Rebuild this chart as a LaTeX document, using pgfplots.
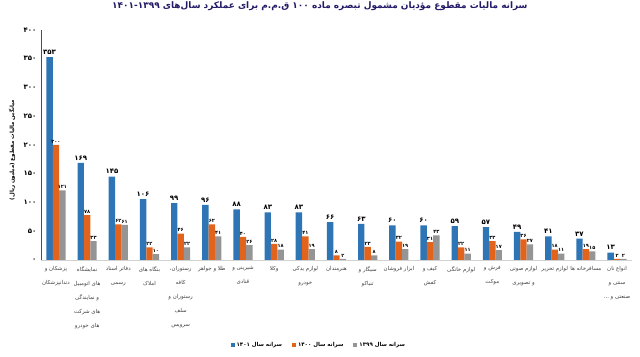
\documentclass[border=0pt]{standalone}
\usepackage{pgfplots}
\pgfplotsset{compat=1.18}
\usepackage{fontspec}
\setmainfont{DejaVu Sans}
\newfontfamily\arabicfont[Script=Arabic]{DejaVu Sans}
\TeXXeTstate=1
\newcommand{\tdots}{...}
\definecolor{cblue}{HTML}{2E75B6}
\definecolor{corange}{HTML}{E2641C}
\definecolor{cgray}{HTML}{959595}
\definecolor{ctitle}{HTML}{231A66}
\definecolor{cred}{HTML}{B22222}
\definecolor{clab}{HTML}{404040}

\begin{document}
\begin{tikzpicture}
\path[use as bounding box] (0,0) rectangle (640bp,357bp);
\begin{axis}[
  at={(41bp,97bp)}, anchor=south west,
  scale only axis, width=591bp, height=230bp,
  ybar=0pt, bar width=6.4bp,
  xmin=-0.48, xmax=18.48, ymin=0, ymax=400,
  ytick={0,50,100,150,200,250,300,350,400},
  yticklabels={۰,۵۰,۱۰۰,۱۵۰,۲۰۰,۲۵۰,۳۰۰,۳۵۰,۴۰۰},
  yticklabel style={font=\arabicfont\bfseries\fontsize{7}{8}\selectfont, xshift=-1bp},
  xtick={0,1,2,3,4,5,6,7,8,9,10,11,12,13,14,15,16,17,18},
  xticklabels={
    {\beginR پزشکان و\endR\\\beginR دندانپزشکان\endR},
    {\beginR نمایشگاه\endR\\\beginR های اتومبیل\endR\\\beginR و نمایندگی\endR\\\beginR های شرکت\endR\\\beginR های خودرو\endR},
    {\beginR دفاتر اسناد\endR\\\beginR رسمی\endR},
    {\beginR بنگاه های\endR\\\beginR املاک\endR},
    {\beginR رستوران،\endR\\\beginR کافه\endR\\\beginR رستوران و\endR\\\beginR سلف\endR\\\beginR سرویس\endR},
    {\beginR طلا و جواهر\endR},
    {\beginR شیرینی و\endR\\\beginR قنادی\endR},
    {\beginR وکلا\endR},
    {\beginR لوازم یدکی\endR\\\beginR خودرو\endR},
    {\beginR هنرمندان\endR},
    {\beginR سیگار و\endR\\\beginR تنباکو\endR},
    {\beginR ابزار فروشان\endR},
    {\beginR کیف و\endR\\\beginR کفش\endR},
    {\beginR لوازم خانگی\endR},
    {\beginR فرش و\endR\\\beginR موکت\endR},
    {\beginR لوازم صوتی\endR\\\beginR و تصویری\endR},
    {\beginR لوازم تحریر\endR},
    {\beginR مسافرخانه ها\endR},
    {\beginR انواع نان\endR\\\beginR سنتی و\endR\\\beginR صنعتی و \tdots\endR}
  },
  xticklabel style={font=\arabicfont\fontsize{5.5}{14}\selectfont, text=clab, align=center, anchor=north, yshift=-3bp},
  axis lines=left, axis line style={-},
  x axis line style={draw=gray!35},
  y axis line style={draw=cred, line width=0.6pt},
  major tick length=0pt,
  title={\beginR سرانه مالیات مقطوع مؤدیان مشمول تبصره ماده ۱۰۰ ق.م.م برای عملکرد سال‌های ۱۴۰۱-۱۳۹۹\endR},
  title style={at={(axis description cs:0.472,1.078)}, anchor=center, font=\arabicfont\bfseries\fontsize{9}{11}\selectfont, text=ctitle},
  ylabel={\beginR میانگین مالیات مقطوع (میلیون ریال)\endR},
  ylabel style={at={(axis description cs:-0.049,0.478)}, anchor=center, rotate=0, font=\arabicfont\bfseries\fontsize{5.5}{7}\selectfont},
  nodes near coords, point meta=explicit symbolic,
  every node near coord/.append style={font=\arabicfont\bfseries\fontsize{5}{6}\selectfont, inner sep=1.5bp, text=black},
  legend style={at={(axis description cs:0.47,-0.37)}, anchor=center, legend columns=3, draw=none, fill=none,
    font=\arabicfont\bfseries\fontsize{5.5}{7}\selectfont, /tikz/every even column/.append style={column sep=8bp}},
  legend image code/.code={\fill[#1] (0bp,-2bp) rectangle (4bp,2bp);},
]
\addplot[fill=cblue, draw=none, every node near coord/.append style={font=\arabicfont\bfseries\fontsize{7}{8}\selectfont, inner sep=2.5bp}] coordinates {
(0,353) [۳۵۳] (1,169) [۱۶۹] (2,145) [۱۴۵] (3,106) [۱۰۶] (4,99) [۹۹] (5,96) [۹۶] (6,88) [۸۸] (7,83) [۸۳] (8,83) [۸۳] (9,66) [۶۶] (10,63) [۶۳] (11,60) [۶۰] (12,60) [۶۰] (13,59) [۵۹] (14,57) [۵۷] (15,49) [۴۹] (16,41) [۴۱] (17,37) [۳۷] (18,13) [۱۳]
};
\addplot[fill=corange, draw=none] coordinates {
(0,200) [۲۰۰] (1,78) [۷۸] (2,62) [۶۲] (3,22) [۲۲] (4,46) [۴۶] (5,62) [۶۲] (6,40) [۴۰] (7,28) [۲۸] (8,41) [۴۱] (9,8) [۸] (10,23) [۲۳] (11,32) [۳۲] (12,31) [۳۱] (13,22) [۲۲] (14,33) [۳۳] (15,36) [۳۶] (16,18) [۱۸] (17,19) [۱۹] (18,2) [۲]
};
\addplot[fill=cgray, draw=none] coordinates {
(0,121) [۱۲۱] (1,33) [۳۳] (2,61) [۶۱] (3,10) [۱۰] (4,22) [۲۲] (5,41) [۴۱] (6,26) [۲۶] (7,18) [۱۸] (8,19) [۱۹] (9,2) [۲] (10,8) [۸] (11,19) [۱۹] (12,43) [۴۳] (13,11) [۱۱] (14,17) [۱۷] (15,27) [۲۷] (16,11) [۱۱] (17,15) [۱۵] (18,2) [۲]
};
\legend{{\beginR سرانه سال ۱۴۰۱\endR},{\beginR سرانه سال ۱۴۰۰\endR},{\beginR سرانه سال ۱۳۹۹\endR}}
\end{axis}
\end{tikzpicture}
\end{document}
